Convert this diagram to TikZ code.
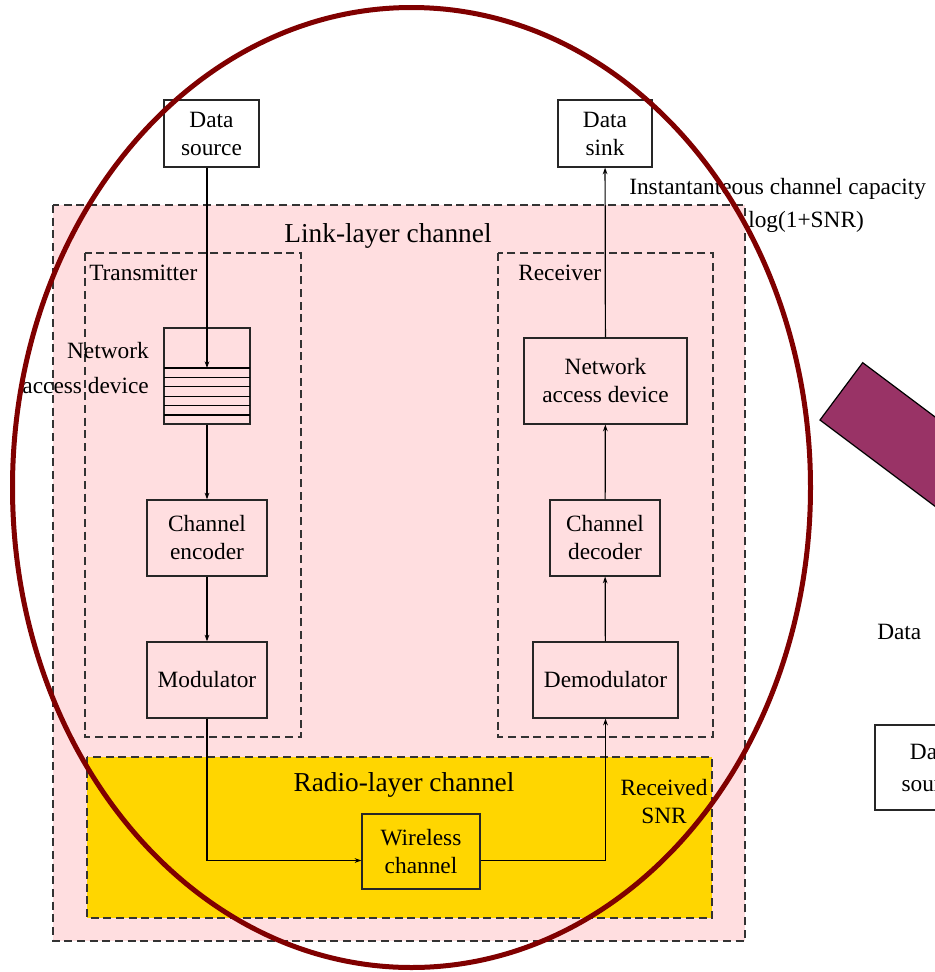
\documentclass[tikz,border=0pt]{standalone}
\usepackage{fontspec}
\setmainfont{Liberation Serif}
\usetikzlibrary{arrows.meta,positioning,calc}
\definecolor{linkpink}{RGB}{255,222,224}
\definecolor{radioyellow}{RGB}{255,214,0}
\definecolor{ringred}{RGB}{128,0,0}
\definecolor{plumbar}{RGB}{153,51,102}

\begin{document}
\begin{tikzpicture}[
  x=0.75pt, y=-0.75pt,
  >={Stealth[length=5pt,width=3.5pt]},
  font=\fontsize{17.5}{21}\selectfont,
  blk/.style={draw=black!85, line width=0.9pt, align=center, inner sep=2pt},
  region/.style={draw=black!80, line width=0.9pt, dash pattern=on 6pt off 3.5pt},
  ttl/.style={font=\fontsize{20.5}{24}\selectfont},
  lbl/.style={inner sep=0pt},
  flow/.style={->, line width=0.9pt}
]
\useasboundingbox (0,0) rectangle (935,972);
\clip (0,0) rectangle (935,972);
\fill[white] (0,0) rectangle (935,972);

% ==================== LINK LAYER ====================
\filldraw[region, fill=linkpink] (53,205) rectangle (745,941);
\node[ttl] (linkttl) at (388,236) {Link-layer channel};

\draw[region] (85,253) rectangle (301,737);
\node[lbl, anchor=west] (txttl) at (89,273) {Transmitter};
\draw[region] (498,253) rectangle (713,737);
\node[lbl, anchor=west] (rxttl) at (518,273) {Receiver};

% Radio layer
\filldraw[region, fill=radioyellow] (87,757) rectangle (712,918);
\node[ttl] (radiottl) at (404,785) {Radio-layer channel};
\node[lbl, align=center] (snr) at (664,802) {Received\\SNR};

% ==================== BLOCKS ====================
\node[blk, minimum width=71.25pt, minimum height=50.25pt] (src) at (211.5,133.5) {Data\\source};
\node[blk, minimum width=70.5pt, minimum height=50.25pt] (sink) at (605,133.5) {Data\\sink};

% Queue of the network access device
\node[blk, minimum width=64.5pt, minimum height=72pt] (queue) at (207,376) {};
\foreach \k in {0,...,5}
  \draw[line width=0.9pt] (164,368+9.4*\k) -- (250,368+9.4*\k);
\coordinate (qin) at (207,368);
\node[lbl, align=right, anchor=east] (qlbl) at (149,368) {Network\\[5pt]access device};

\node[blk, minimum width=90pt, minimum height=57pt] (enc) at (207,538) {Channel\\encoder};
\node[blk, minimum width=90pt, minimum height=57pt] (mod) at (207,680) {Modulator};

\node[blk, minimum width=122.25pt, minimum height=64.5pt] (nad) at (605.5,381) {Network\\access device};
\node[blk, minimum width=82.5pt, minimum height=57pt] (dec) at (605,538) {Channel\\decoder};
\node[blk, minimum width=108.75pt, minimum height=57pt] (demod) at (605.5,680) {Demodulator};

\node[blk, minimum width=88.5pt, minimum height=56.25pt] (wch) at (421,851.5) {Wireless\\channel};
\coordinate (win) at ($(wch.west)+(0,9)$);
\coordinate (wout) at ($(wch.east)+(0,9)$);

% ==================== ARROWS ====================
\draw[flow] (src.south -| queue) -- (qin);
\draw[flow] (queue) -- (enc);
\draw[flow] (enc) -- (mod);
\draw[flow] (mod.south) |- (win);
\draw[flow] (wout) -| (demod.south);
\draw[flow] (demod) -- (dec);
\draw[flow] (dec) -- (nad);
\draw[flow] (nad) -- (sink);

\node[lbl, anchor=west] (capttl) at (629,189) {Instantanteous channel capacity};
\node[lbl, anchor=west] (capval) at (748,222) {log(1+SNR)};

% ==================== RIGHT (cut off) ====================
\filldraw[fill=plumbar, draw=black, line width=0.9pt]
  (862.7,362.7) -- (820,420) -- (1020,570) -- (1062.7,512.7) -- cycle;
\node[lbl, anchor=west] (datalbl) at (877,632) {Data};
\node[blk, minimum width=85.5pt, minimum height=63.75pt] (src2) at (932,767.5) {Data\\[3pt]source};

% Ring
\draw[ringred, line width=3.75pt] (411.5,487.5) ellipse [x radius=399, y radius=480];
\end{tikzpicture}
\end{document}
